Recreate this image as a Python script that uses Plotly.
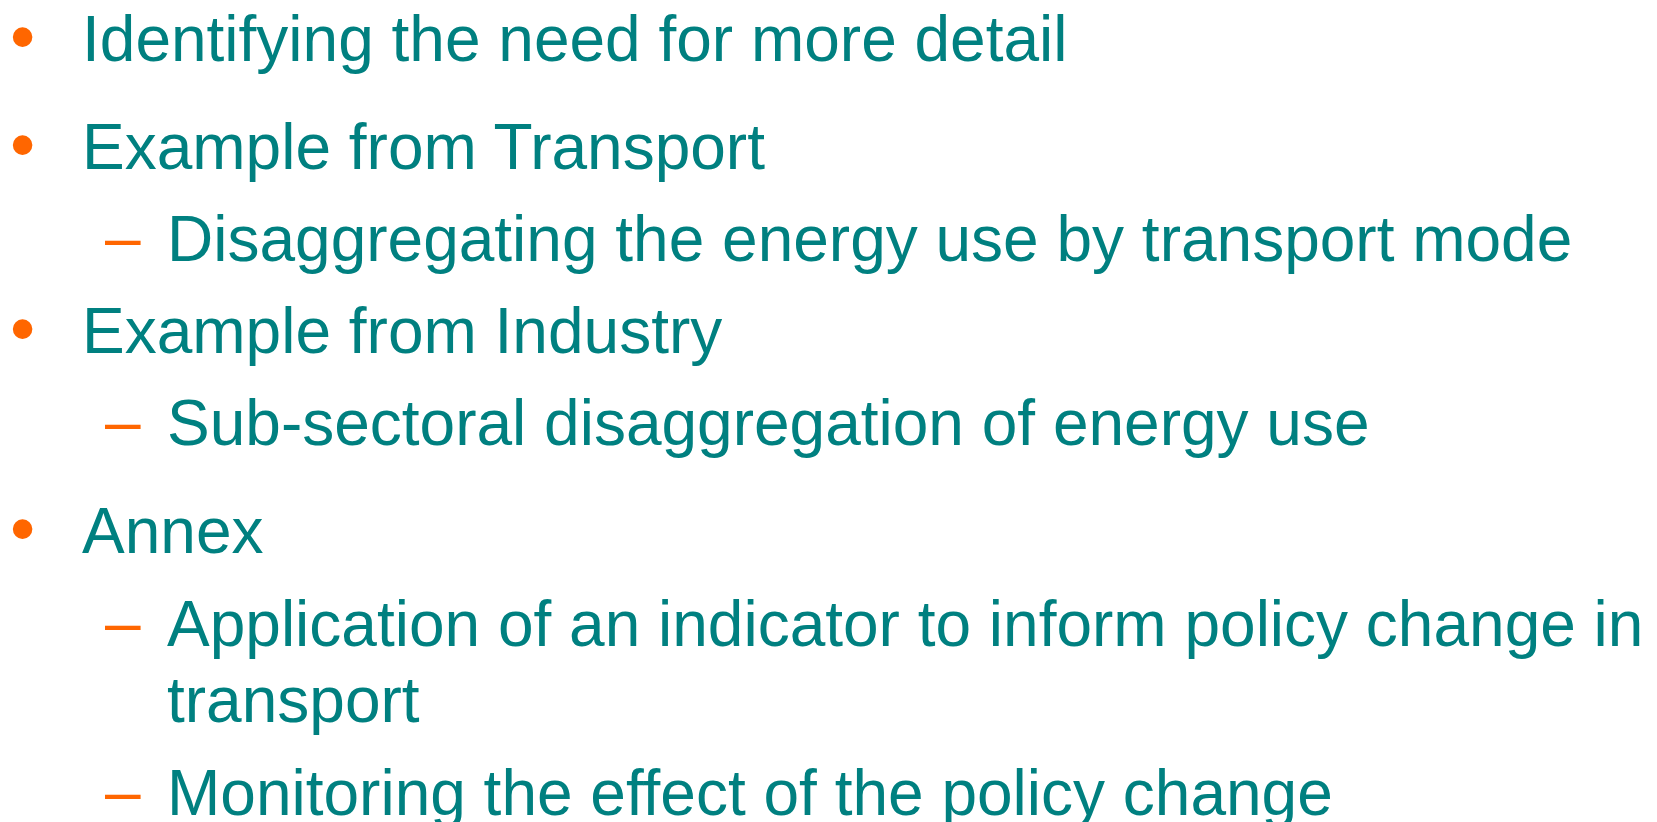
import plotly.graph_objects as go

# Slide content
items = [
    "Identifying the need for more detail",
    "Example from Transport",
    "Disaggregating the energy use by transport mode",
    "Example from Industry",
    "Sub-sectoral disaggregation of energy use",
    "Annex",
    "Application of an indicator to inform policy change in",
    "transport",
    "Monitoring the effect of the policy change",
]
levels = [1, 1, 2, 1, 2, 1, 2, 2, 2]
has_marker = [True, True, True, True, True, True, True, False, True]

# Layout (pixel baselines of each row)
W, H = 1657, 822
baselines = [58, 166, 258, 350, 442, 550, 643, 719, 812]
FS = 64
TEAL = "#008080"
ORANGE = "#FF6600"
FONT = "Liberation Sans, Arial, sans-serif"

text_x = {1: 73, 2: 158}
marker_x = {1: 1, 2: 96}
marker_char = {1: "•", 2: "–"}
marker_size = {1: 72, 2: 64}
marker_dy = {1: -3, 2: -2}

fig = go.Figure()
fig.add_trace(go.Scatter(x=[0, W], y=[0, H], mode="markers",
                         marker=dict(opacity=0), hoverinfo="skip", showlegend=False))

OFF = 27  # baseline -> middle offset
annotations = []
for txt, lvl, mk, bl in zip(items, levels, has_marker, baselines):
    yc = bl - OFF
    annotations.append(dict(x=text_x[lvl], y=yc, xref="x", yref="y", text=txt,
                            showarrow=False, xanchor="left", yanchor="middle",
                            font=dict(family=FONT, size=FS, color=TEAL), borderpad=0))
    if mk:
        annotations.append(dict(x=marker_x[lvl], y=yc + marker_dy[lvl], xref="x", yref="y",
                                text=marker_char[lvl], showarrow=False,
                                xanchor="left", yanchor="middle",
                                font=dict(family=FONT, size=marker_size[lvl], color=ORANGE),
                                borderpad=0))

fig.update_layout(
    width=W, height=H,
    margin=dict(l=0, r=0, t=0, b=0),
    paper_bgcolor="white", plot_bgcolor="white",
    xaxis=dict(range=[0, W], visible=False, fixedrange=True),
    yaxis=dict(range=[H, 0], visible=False, fixedrange=True),
    annotations=annotations,
    showlegend=False,
)

fig.write_html("out.html", config={"displayModeBar": False})
